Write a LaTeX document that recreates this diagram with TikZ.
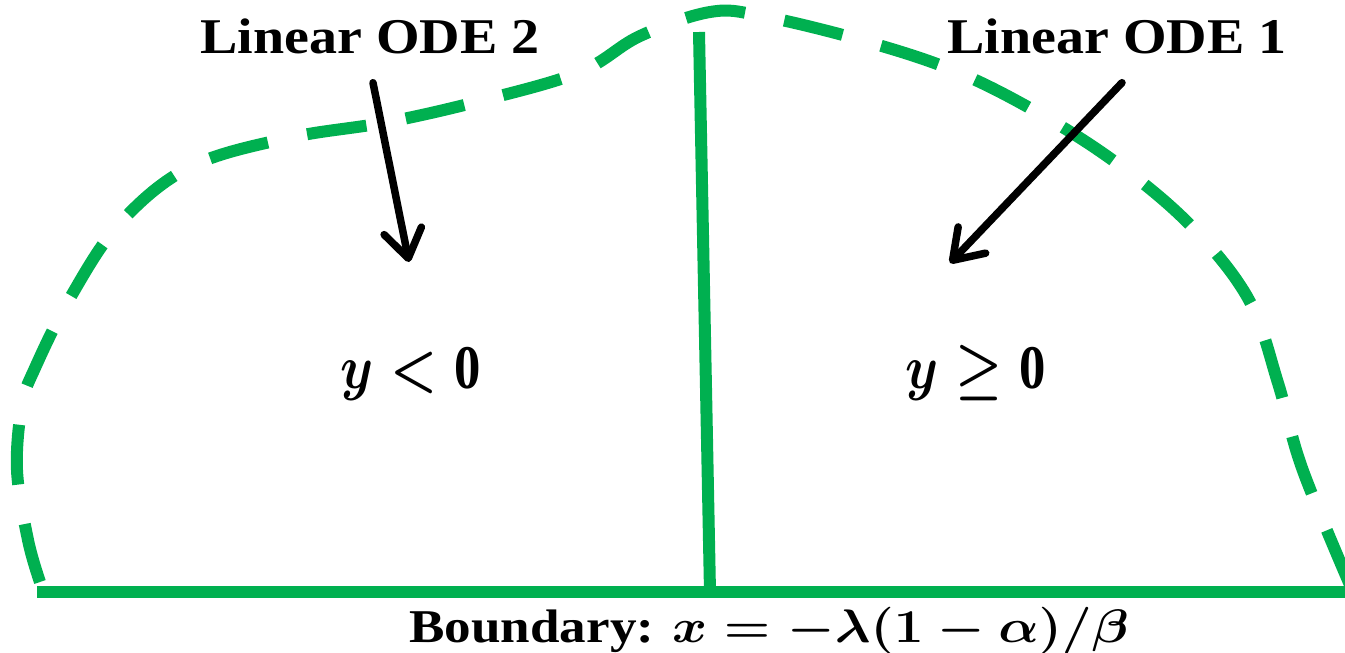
\RequirePackage{fix-cm}
\documentclass[tikz,border=0pt]{standalone}
\usepackage{fontspec}
\setmainfont{Liberation Serif}
\usepackage{bm}
\usetikzlibrary{calc,arrows.meta,positioning}
\definecolor{odegreen}{RGB}{0,176,80}

\begin{document}
\begin{tikzpicture}[x=1pt,y=-1pt,
 region/.style={draw=odegreen,line width=12pt},
 edge/.style={draw=odegreen,line width=12pt,dash pattern=on 60pt off 40pt},
 odearrow/.style={line width=7.5pt,line cap=round,
    -{Straight Barb[length=28pt,width=38pt,line cap=round,round]}},
 odelabel/.style={font=\fontsize{50}{60}\selectfont\bfseries,inner sep=0pt,anchor=base},
 signlabel/.style={font=\fontsize{62}{70}\selectfont\bfseries\boldmath,inner sep=0pt,anchor=base}]

 \useasboundingbox (0,0) rectangle (1345,653);

% dashed outline of the domain
 \draw[edge] plot[smooth,tension=0.6] coordinates {(40,582) (28,540) (17,470) (22,405)
   (35,368) (70,298) (120,223) (190,167) (288,138) (388,122) (484,100) (580,72)
   (640,36) (710,12) (762,16) (861,40) (955,71) (1042,115) (1122,167) (1193,228)
   (1249,300) (1278,383) (1302,468) (1350,585)};

 \coordinate (bl) at (37,592);
 \coordinate (br) at (1345,592);
 \coordinate (top) at (699,32);
 \coordinate (foot) at (710,592);

 \draw[region] (bl)--(br);
 \draw[region] (top)--(foot);

 \node[odelabel] (ode2) at (370,53) {\scalebox{1.12}[1]{Linear ODE 2}};
 \node[odelabel] (ode1) at (1117,53) {\scalebox{1.12}[1]{Linear ODE 1}};

 \node[signlabel] (yneg) at (411,388) {\scalebox{0.85}[1]{$y<\textbf{0}$}};
 \node[signlabel] (ypos) at (976,388) {\scalebox{0.85}[1]{$y\geq\textbf{0}$}};

 \node[odelabel,font=\fontsize{47}{56}\selectfont\bfseries] (bnd) at (769,642)
   {\scalebox{1.13}[1]{Boundary: {\boldmath$x=-\lambda(\mathbf{1}-\alpha)/\beta$}}};

 \coordinate (tip2) at (409,262);
 \coordinate (tip1) at (950,263);
 \draw[odearrow] ([shift={(3,29)}]ode2.south) -- (tip2);
 \draw[odearrow] ([shift={(5,29)}]ode1.south) -- (tip1);

\end{tikzpicture}
\end{document}
